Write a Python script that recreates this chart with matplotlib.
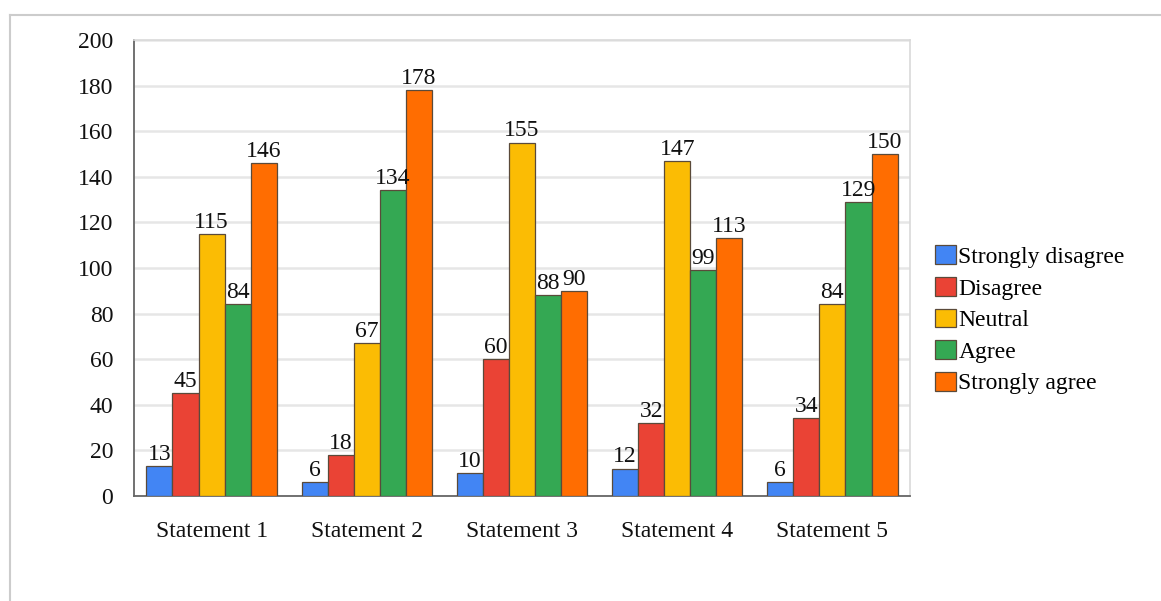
import matplotlib
matplotlib.use("Agg")
import matplotlib.pyplot as plt
from matplotlib.lines import Line2D
import numpy as np

categories = ["Statement 1", "Statement 2", "Statement 3", "Statement 4", "Statement 5"]
series_names = ["Strongly disagree", "Disagree", "Neutral", "Agree", "Strongly agree"]
strongly_disagree = [13, 6, 10, 12, 6]
disagree = [45, 18, 60, 32, 34]
neutral = [115, 67, 155, 147, 84]
agree = [84, 134, 88, 99, 129]
strongly_agree = [146, 178, 90, 113, 150]
y_ticks = [0, 20, 40, 60, 80, 100, 120, 140, 160, 180, 200]

series = [strongly_disagree, disagree, neutral, agree, strongly_agree]
colors = ["#4285F4", "#EA4335", "#FBBC04", "#34A853", "#FF6D01"]

plt.rcParams['font.family'] = ['Liberation Serif', 'DejaVu Serif']

W, H = 1161, 601
FS = 17
fig = plt.figure(figsize=(W / 100, H / 100), dpi=100)
ax = fig.add_axes([134 / W, (H - 496) / H, 776 / W, 456 / H])

x = np.arange(len(categories))
bw = 0.168
n = len(series)
for i, (vals, c, name) in enumerate(zip(series, colors, series_names)):
    pos = x + (i - (n - 1) / 2) * bw
    ax.bar(pos, vals, width=bw, color=c, edgecolor="#5a4a3a", linewidth=0.9,
           label=name, zorder=3)
    for xp, v in zip(pos, vals):
        ax.text(xp, v + 0.5, str(v), ha="center", va="bottom", fontsize=FS,
                color="#111111", zorder=4)

ax.set_xlim(-0.5, len(categories) - 0.5)
ax.set_ylim(0, 200)
ax.set_yticks(y_ticks)
ax.set_yticklabels([str(t) for t in y_ticks])
ax.set_xticks(x)
ax.set_xticklabels(categories)
ax.tick_params(axis="both", length=0, labelsize=FS, colors="#111111")
ax.tick_params(axis="y", pad=15)
ax.tick_params(axis="x", pad=18)
ax.yaxis.grid(True, color="#e6e6e6", linewidth=1.8, zorder=0)
ax.set_axisbelow(True)
for s in ["top", "right"]:
    ax.spines[s].set_color("#d9d9d9")
    ax.spines[s].set_linewidth(1.2)
for s in ["left", "bottom"]:
    ax.spines[s].set_color("#666666")
    ax.spines[s].set_linewidth(1.3)

leg = fig.legend(loc="upper left", bbox_to_anchor=(926 / W, 1 - 236 / H),
                 frameon=False, fontsize=FS, handlelength=0.85, handleheight=0.85,
                 handletextpad=0.12, labelspacing=0.38, borderaxespad=0)

# outer frame lines
fig.add_artist(Line2D([10 / W, 1.0], [1 - 15 / H, 1 - 15 / H], color="#cccccc", linewidth=1.5))
fig.add_artist(Line2D([10 / W, 10 / W], [0, 1 - 15 / H], color="#cccccc", linewidth=1.5))

fig.savefig("out.png", dpi=100)
